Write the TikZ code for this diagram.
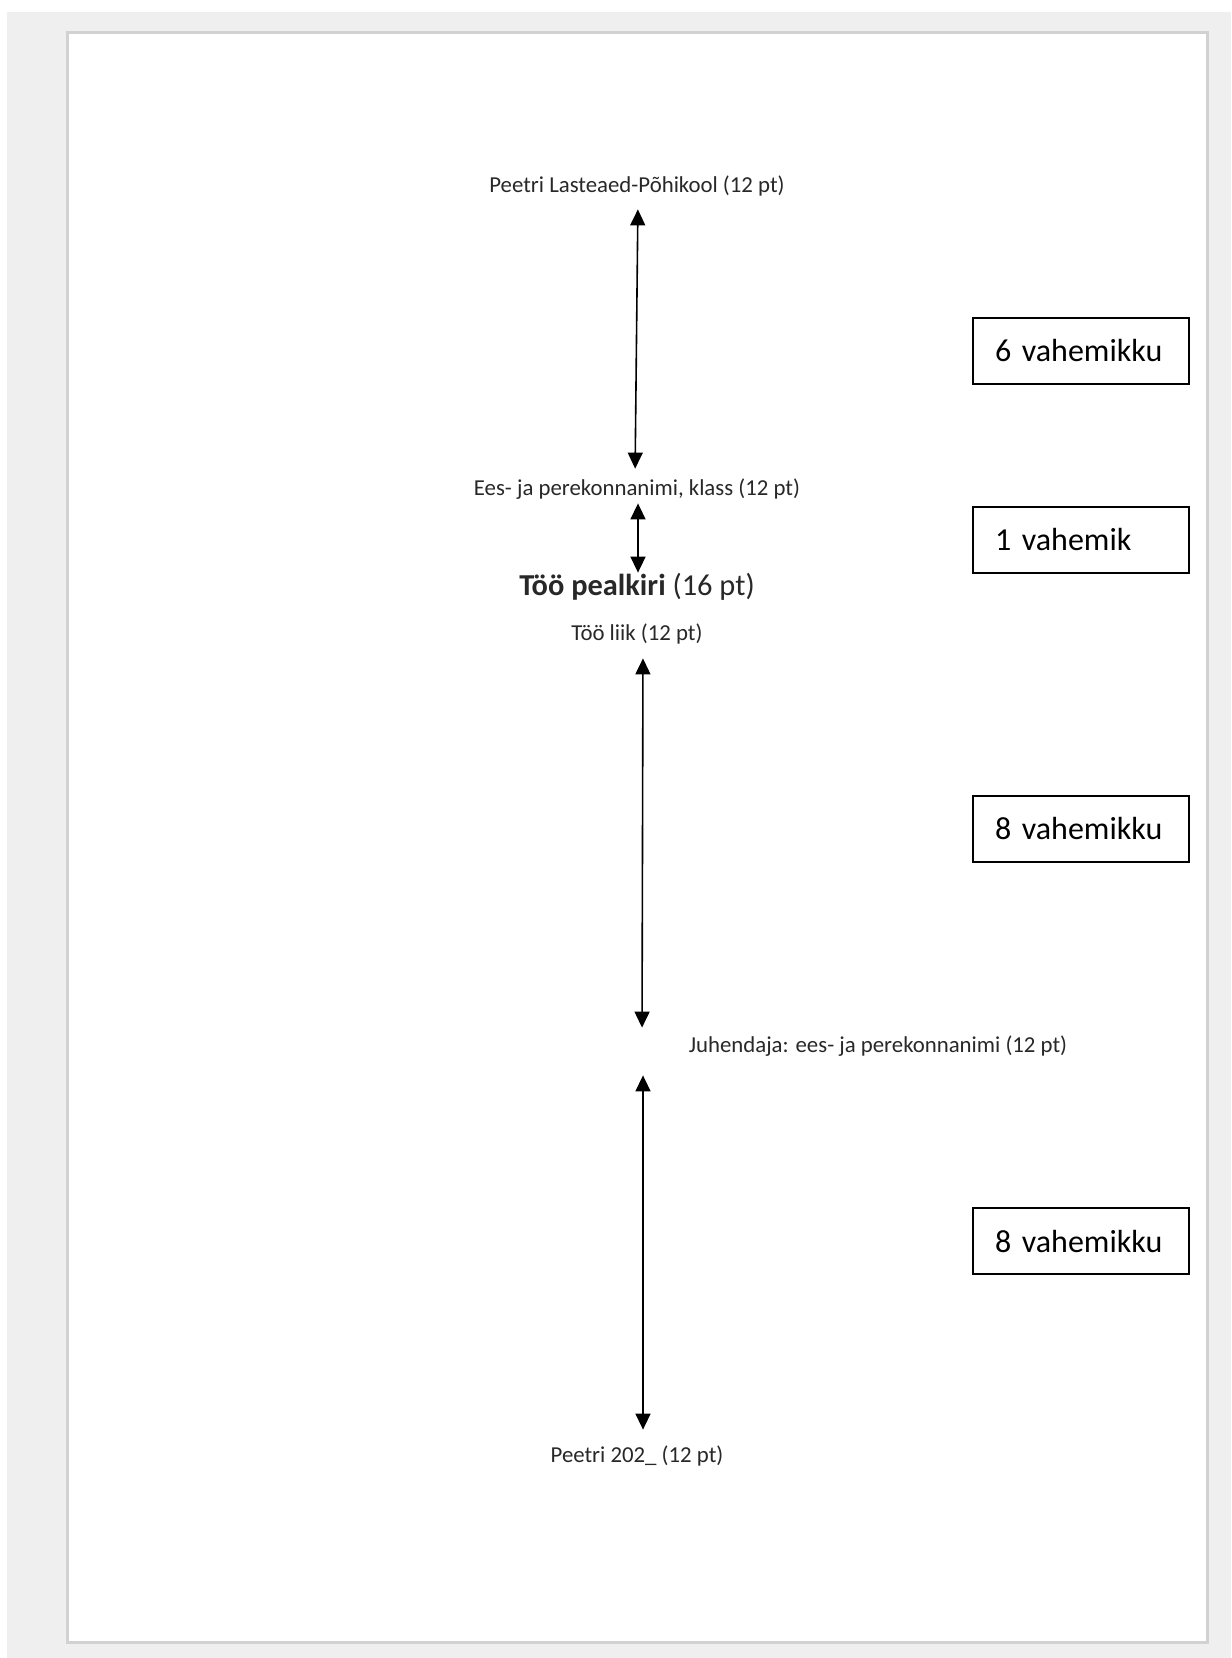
\documentclass[tikz,border=0pt]{standalone}
\usepackage{fontspec}
\setmainfont{Carlito}
\usepackage{tikz}
\usetikzlibrary{arrows.meta, positioning}
\usepackage{xcolor}
\definecolor{outercolor}{RGB}{239,239,239}
\definecolor{pagecolor}{RGB}{255,255,255}
\definecolor{pageborder}{RGB}{210,210,210}
\definecolor{textcolor}{RGB}{40,40,40}
\definecolor{arrowcolor}{RGB}{0,0,0}

\begin{document}
\begin{tikzpicture}[x=0.5pt, y=-0.5pt,
  % Node styles
  linetext/.style={
    anchor=base,
    inner sep=0pt,
    text height=8pt,
    text depth=2.5pt,
    text=textcolor,
    font=\fontsize{11.4}{13}\selectfont
  },
  titletext/.style={
    anchor=base,
    inner sep=0pt,
    text height=10.5pt,
    text depth=3.5pt,
    text=textcolor,
    font=\fontsize{15.2}{17}\selectfont
  },
  countbox/.style={
    rectangle,
    draw=black,
    line width=0.6pt,
    fill=white,
    text width=86pt,
    inner xsep=11pt,
    inner ysep=0pt,
    align=left,
    minimum height=33pt,
    font=\fontsize{16}{19}\selectfont
  },
  gaparrow/.style={
    {Triangle[length=8pt, width=7.5pt]}-{Triangle[length=8pt, width=7.5pt]},
    line width=0.8pt,
    draw=arrowcolor
  }
]
\useasboundingbox (0,0) rectangle (1231,1658);

% ===== PAGE =====
\fill[outercolor] (7,12) rectangle (1231,1658);
\draw[pageborder, line width=1.5pt, fill=pagecolor] (67,33) rectangle (1207,1642);

% ===== TITLE PAGE LINES (placed on baselines) =====
\node[linetext] (kool) at (637,193) {Peetri Lasteaed-Põhikool (12 pt)};
\node[linetext] (nimi) at (637,495) {Ees- ja perekonnanimi, klass (12 pt)};
\node[titletext] (pealkiri) at (637,595) {\textbf{Töö pealkiri} (16 pt)};
\node[linetext] (liik) at (637,640) {Töö liik (12 pt)};
\node[linetext] (juhendaja) at (878,1052) {Juhendaja: ees- ja perekonnanimi (12 pt)};
\node[linetext] (aasta) at (637,1462) {Peetri 202\_ (12 pt)};

% ===== SPACING BOXES =====
\node[countbox] (b6) at (1081,351) {6 vahemikku};
\node[countbox] (b1) at (1081,540) {1 vahemik};
\node[countbox] (b8a) at (1081,829) {8 vahemikku};
\node[countbox] (b8b) at (1081,1241) {8 vahemikku};

% ===== ARROWS =====
\draw[gaparrow, shorten <=5.5pt, shorten >=5pt] ([xshift=0.5pt]kool.south) -- ([xshift=-1pt]nimi.north);
\draw[gaparrow, shorten <=1.5pt, shorten >=0.5pt] ([xshift=0.5pt]nimi.south) -- ([xshift=0.5pt]pealkiri.north);
\draw[gaparrow, shorten <=6.5pt, shorten >=4pt] ([xshift=3pt]liik.south) -- ([xshift=2.5pt]liik.south |- juhendaja.north);
\draw[gaparrow, shorten <=9pt, shorten >=8pt] ([xshift=3pt]liik.south |- juhendaja.south) -- ([xshift=3pt]aasta.north);

\end{tikzpicture}
\end{document}
